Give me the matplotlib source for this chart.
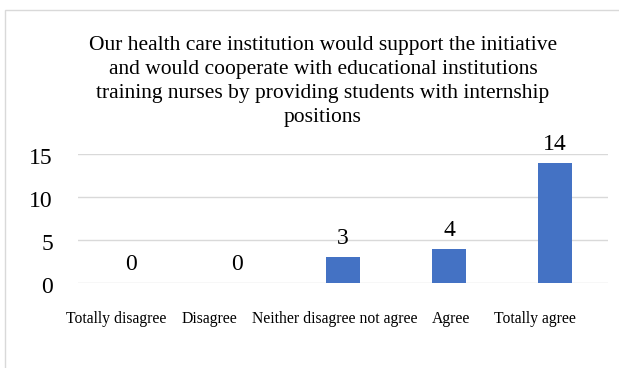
import matplotlib.pyplot as plt
from matplotlib.patches import Rectangle
from matplotlib.transforms import ScaledTranslation

# survey answers and counts
categories = ['Totally disagree', 'Disagree', 'Neither disagree not agree',
              'Agree', 'Totally agree']
counts = [0, 0, 3, 4, 14]
y_ticks = [0, 5, 10, 15]
title = ('Our health care institution would support the initiative\n'
         'and would cooperate with educational institutions\n'
         'training nurses by providing students with internship\n'
         'positions')

plt.rcParams['font.family'] = ['Liberation Serif', 'DejaVu Serif']

fig = plt.figure(figsize=(6.19, 3.68), dpi=100)
ax = fig.add_axes([78 / 619, 1 - 283 / 368, (608 - 78) / 619, (283 - 154) / 368])

x = range(len(categories))
ax.bar(x, counts, width=0.32, color='#4472C4', zorder=3)

ax.set_xlim(-0.5, len(categories) - 0.5)
ax.set_ylim(0, 15)
ax.set_yticks(y_ticks)
ax.set_yticklabels([str(t) for t in y_ticks], fontsize=17, va='center')
ax.set_xticks(list(x))
ax.set_xticklabels(categories, fontsize=11.3)
ax.tick_params(axis='both', length=0)
ax.tick_params(axis='x', pad=20)
ax.tick_params(axis='y', pad=18)
ax.grid(axis='y', color='#D9D9D9', linewidth=1, zorder=0)
for s in ax.spines.values():
    s.set_visible(False)

# y labels sit a little under their gridlines
for lbl in ax.get_yticklabels():
    lbl.set_transform(lbl.get_transform() +
                      ScaledTranslation(0, -3 / 72, fig.dpi_scale_trans))

# category labels are nudged sideways so the long ones don't collide
shifts = [-14.5, -28, -8.5, 2, -20]
for lbl, dx in zip(ax.get_xticklabels(), shifts):
    lbl.set_transform(lbl.get_transform() +
                      ScaledTranslation(dx / 100, 0, fig.dpi_scale_trans))

# value labels above the bars
for i, v in enumerate(counts):
    ax.text(i, v + 0.9, str(v), ha='center', va='bottom', fontsize=17,
            clip_on=False)

fig.text(323 / 619, 1 - 36 / 368, title, ha='center', va='top',
         fontsize=15.5, linespacing=1.36)

# chart frame
fig.patches.append(Rectangle((5 / 619, -0.1), 1.2, 1 - 9.5 / 368 + 0.1,
                             transform=fig.transFigure, fill=False,
                             edgecolor='#D9D9D9', linewidth=1))

fig.savefig('out.png', dpi=100)
